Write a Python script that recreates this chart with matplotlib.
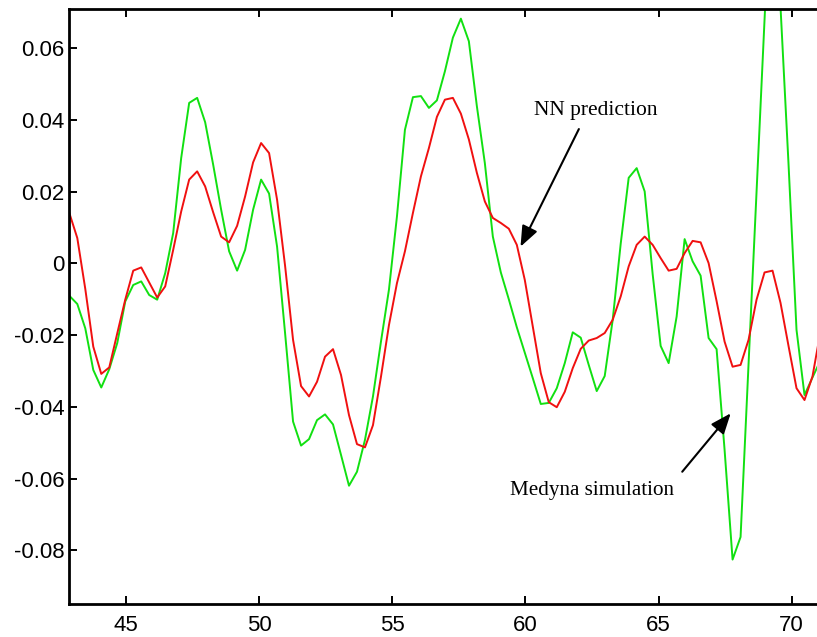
import numpy as np
import matplotlib
matplotlib.use("Agg")
import matplotlib.pyplot as plt

# sample times (uniform grid) and the two responses
t0 = 42.88
dt = 0.3

nn_pred = [
    0.0141, 0.0071, -0.0071, -0.0232, -0.0308, -0.0290, -0.0195, -0.0101, -0.0020, -0.0011,
    -0.0053, -0.0095, -0.0064, 0.0038, 0.0145, 0.0234, 0.0257, 0.0215, 0.0143, 0.0075,
    0.0059, 0.0105, 0.0187, 0.0282, 0.0336, 0.0308, 0.0178, -0.0006, -0.0213, -0.0342,
    -0.0371, -0.0330, -0.0260, -0.0239, -0.0311, -0.0423, -0.0504, -0.0513, -0.0451, -0.0316,
    -0.0172, -0.0055, 0.0034, 0.0141, 0.0243, 0.0322, 0.0409, 0.0457, 0.0462, 0.0418,
    0.0346, 0.0253, 0.0173, 0.0127, 0.0113, 0.0097, 0.0052, -0.0046, -0.0176, -0.0306,
    -0.0387, -0.0401, -0.0358, -0.0292, -0.0238, -0.0215, -0.0208, -0.0194, -0.0157, -0.0092,
    -0.0008, 0.0052, 0.0075, 0.0052, 0.0015, -0.0020, -0.0015, 0.0029, 0.0063, 0.0059,
    0.0001, -0.0105, -0.0218, -0.0288, -0.0283, -0.0213, -0.0101, -0.0025, -0.0020, -0.0110,
    -0.0230, -0.0348, -0.0381, -0.0315, -0.0190,
]

medyna_sim = [
    -0.0090, -0.0113, -0.0181, -0.0297, -0.0346, -0.0295, -0.0222, -0.0106, -0.0060, -0.0050,
    -0.0088, -0.0101, -0.0027, 0.0085, 0.0294, 0.0448, 0.0462, 0.0394, 0.0276, 0.0150,
    0.0034, -0.0020, 0.0038, 0.0150, 0.0234, 0.0195, 0.0047, -0.0194, -0.0441, -0.0508,
    -0.0490, -0.0437, -0.0421, -0.0449, -0.0534, -0.0620, -0.0581, -0.0492, -0.0371, -0.0218,
    -0.0073, 0.0131, 0.0373, 0.0464, 0.0467, 0.0434, 0.0455, 0.0536, 0.0630, 0.0683,
    0.0620, 0.0439, 0.0280, 0.0075, -0.0025, -0.0100, -0.0178, -0.0249, -0.0320, -0.0392,
    -0.0389, -0.0348, -0.0278, -0.0192, -0.0207, -0.0283, -0.0356, -0.0314, -0.0157, 0.0055,
    0.0239, 0.0266, 0.0201, -0.0030, -0.0230, -0.0278, -0.0148, 0.0068, 0.0006, -0.0034,
    -0.0208, -0.0239, -0.0520, -0.0826, -0.0763, -0.0280, 0.0200, 0.0680, 0.1160, 0.0715,
    0.0278, -0.0185, -0.0367, -0.0318, -0.0270,
]

x_ticks = [45, 50, 55, 60, 65, 70]
y_ticks = [-0.08, -0.06, -0.04, -0.02, 0, 0.02, 0.04, 0.06]
y_tick_labels = ['-0.08', '-0.06', '-0.04', '-0.02', '0', '0.02', '0.04', '0.06']

t = t0 + dt * np.arange(len(nn_pred))

fig = plt.figure(figsize=(8.17, 6.37), dpi=100)
ax = fig.add_axes([0.0845, 0.0518, 0.9165, 0.9341])

ax.plot(t, medyna_sim, color='#11e011', lw=1.4)
ax.plot(t, nn_pred, color='#f01010', lw=1.4)

ax.set_xlim(42.87, 70.98)
ax.set_ylim(-0.095, 0.071)

ax.set_xticks(x_ticks)
ax.set_yticks(y_ticks)
ax.set_yticklabels(y_tick_labels)
for lab in ax.get_xticklabels() + ax.get_yticklabels():
    lab.set_fontfamily('Liberation Sans')
    lab.set_fontsize(16)

ax.tick_params(axis='x', direction='in', length=6, width=1.4, top=True, pad=8)
ax.tick_params(axis='y', direction='in', length=6, width=1.4, right=False, pad=3)
for side in ['left', 'top', 'bottom']:
    ax.spines[side].set_linewidth(2.0)
ax.spines['right'].set_visible(False)

# annotations: text and arrow placed separately
arrow = dict(arrowstyle='-|>,head_length=1.25,head_width=0.5',
             color='black', lw=1.5, shrinkA=0, shrinkB=0)
ax.text(60.32, 0.0415, 'NN prediction', family='Liberation Serif', size=15.5,
        ha='left', va='baseline')
ax.annotate('', xy=(59.82, 0.0047), xytext=(62.01, 0.0375), arrowprops=arrow)
ax.text(59.42, -0.0646, 'Medyna simulation', family='Liberation Serif', size=15.2,
        ha='left', va='baseline')
ax.annotate('', xy=(67.71, -0.0418), xytext=(65.89, -0.0581), arrowprops=arrow)

fig.savefig('out.png', dpi=100)
